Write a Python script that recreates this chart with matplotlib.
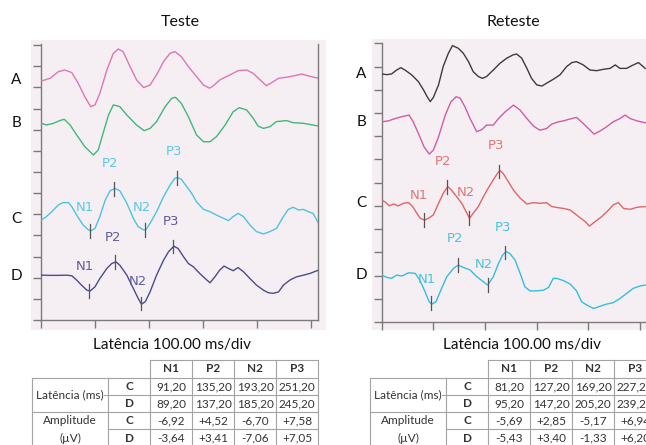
import numpy as np
import matplotlib
matplotlib.use('Agg')
import matplotlib.pyplot as plt
from matplotlib.patches import Rectangle

plt.rcParams['font.family'] = ['Lato', 'DejaVu Sans']

# ---- data: latency (ms) and amplitude (divisions) ----
waves = ['N1', 'P2', 'N2', 'P3']

# Teste
teste_t_A = [1, 17, 32, 44, 57, 69, 81, 92, 100, 109, 122, 134, 143, 152, 165, 177, 190, 202, 214, 227,
             239, 248, 260, 273, 288, 301, 312, 319, 331, 350, 365, 381, 393, 406, 417, 427, 440, 455, 467, 483,
             495, 514]
teste_A = [-0.05, 0.08, 0.39, 0.47, 0.35, -0.16, -0.79, -1.26, -1.18, -0.63, 0.47, 1.26, 1.46, 1.34, 0.63, 0,
           -0.36, -0.24, 0.24, 0.87, 1.26, 1.34, 1.10, 0.63, 0.16, -0.24, -0.39, -0.28, 0, 0.24, 0.44, 0.47,
           0.31, 0, -0.27, -0.13, 0.08, 0.13, 0.19, 0.28, 0.19, 0.08]
teste_t_B = [1, 10, 23, 35, 43, 54, 66, 81, 97, 106, 115, 125, 134, 146, 159, 177, 191, 202, 214, 230,
             242, 249, 260, 273, 288, 301, 313, 325, 341, 356, 367, 381, 393, 402, 412, 424, 436, 455, 467, 486,
             514]
teste_B = [0, -0.08, 0, 0.13, 0.19, -0.08, -0.55, -1.10, -1.50, -1.26, -0.47, 0.39, 0.87, 0.79, 0.39, -0.08,
           -0.35, -0.24, 0.08, 0.79, 1.18, 1.23, 0.94, 0.31, -0.55, -0.87, -0.87, -0.63, -0.08, 0.55, 0.74, 0.63,
           0.24, -0.13, -0.24, -0.16, 0.08, 0.13, 0.03, 0, -0.13]
teste_t_C = [1, 10, 20, 32, 41, 51, 57, 66, 78, 88, 92, 100, 109, 119, 128, 137, 146, 159, 171, 180,
             190, 194, 202, 214, 227, 239, 248, 253, 260, 270, 279, 288, 301, 313, 325, 338, 347, 356, 365, 375,
             387, 399, 412, 424, 436, 449, 458, 467, 477, 486, 495, 504, 514]
teste_C = [-0.03, 0.13, 0.36, 0.68, 0.79, 0.79, 0.60, 0.20, -0.27, -0.50, -0.55, -0.43, 0.13, 0.91, 1.35, 1.46,
           1.35, 0.76, 0.05, -0.35, -0.50, -0.50, -0.19, 0.36, 1.07, 1.62, 1.94, 1.98, 1.89, 1.54, 1.23, 0.83,
           0.47, 0.36, 0.20, 0.05, -0.06, 0.13, 0.28, 0.13, -0.27, -0.58, -0.69, -0.58, -0.43, 0.13, 0.47, 0.57,
           0.44, 0.47, 0.36, 0.28, -0.19]
teste_t_D = [1, 17, 32, 48, 57, 66, 75, 85, 91, 100, 109, 122, 131, 139, 146, 159, 171, 180, 186, 193,
             202, 214, 227, 236, 246, 254, 264, 273, 282, 294, 304, 313, 322, 331, 339, 347, 356, 365, 375, 387,
             399, 412, 421, 430, 440, 449, 461, 473, 486, 498, 514]
teste_D = [0.03, 0.02, 0.02, 0.03, 0, -0.20, -0.44, -0.68, -0.72, -0.52, -0.13, 0.35, 0.58, 0.66, 0.50, 0.03,
           -0.60, -1.07, -1.34, -1.23, -0.76, 0.03, 0.74, 1.13, 1.40, 1.29, 0.90, 0.58, 0.43, 0.11, -0.13, -0.33,
           -0.05, 0.27, 0.46, 0.35, 0.24, 0.39, 0.19, -0.13, -0.44, -0.68, -0.80, -0.83, -0.76, -0.44, -0.20,
           -0.05, 0.03, 0.11, 0.27]

# Reteste
reteste_t_A = [0, 10, 19, 29, 37, 45, 58, 71, 81, 88, 94, 100, 110, 119, 129, 137, 148, 158, 168, 177,
               187, 195, 203, 216, 229, 242, 254, 261, 271, 281, 290, 300, 310, 319, 332, 345, 358, 368, 377, 390,
               403, 416, 429, 442, 452, 461, 474, 487, 497, 510]
reteste_A = [0, -0.03, 0, 0.17, 0.27, 0.17, -0.04, -0.33, -0.69, -0.98, -1.19, -1.01, -0.47, 0.32, 0.89, 1.22,
             1.11, 0.89, 0.53, 0.10, -0.11, -0.19, -0.11, 0.17, 0.46, 0.68, 0.82, 0.86, 0.68, 0.24, -0.19, -0.47,
             -0.52, -0.40, -0.23, -0.04, 0.32, 0.49, 0.53, 0.39, 0.17, 0.14, 0.20, 0.24, 0.39, 0.24, 0.24, 0.39,
             0.49, 0.24]
reteste_t_B = [0, 13, 26, 39, 53, 61, 71, 82, 92, 100, 110, 123, 134, 144, 152, 161, 171, 184, 194, 203,
               216, 226, 239, 255, 268, 281, 294, 306, 319, 329, 342, 352, 361, 377, 390, 400, 411, 423, 435, 448,
               461, 471, 481, 494, 510]
reteste_B = [0, 0.04, 0.14, 0.22, 0.29, 0, -0.50, -1.08, -1.39, -1.22, -0.65, 0.29, 0.86, 1.08, 1.01, 0.65,
             0.14, -0.43, -0.33, -0.14, -0.14, 0.14, 0.43, 0.72, 0.50, 0.14, -0.19, -0.36, -0.29, -0.10, 0, 0.04,
             0.10, 0.19, -0.07, -0.29, -0.53, -0.39, -0.22, 0, 0.14, 0.29, 0.14, 0.04, -0.04]
reteste_t_C = [0, 6, 15, 23, 32, 42, 52, 60, 68, 75, 83, 90, 100, 110, 119, 128, 135, 145, 155, 165,
               170, 177, 187, 197, 206, 216, 225, 229, 235, 245, 255, 268, 281, 294, 306, 319, 329, 342, 352, 365,
               381, 394, 402, 413, 426, 439, 448, 458, 468, 481, 494, 510]
reteste_C = [0.14, 0.07, -0.11, -0.03, -0.11, 0, 0.03, -0.14, -0.43, -0.65, -0.72, -0.65, -0.50, 0, 0.43, 0.72,
             0.57, 0.29, 0, -0.43, -0.65, -0.43, -0.14, 0.29, 0.65, 1.01, 1.32, 1.41, 1.29, 0.93, 0.57, 0.22,
             -0.03, 0.03, 0, 0.03, -0.14, -0.19, -0.22, -0.29, -0.57, -0.79, -0.98, -0.79, -0.57, -0.29, -0.07,
             0.03, -0.22, -0.26, -0.17, -0.14]
reteste_t_D = [0, 10, 19, 29, 39, 52, 65, 74, 84, 92, 97, 105, 116, 126, 139, 148, 158, 171, 184, 197,
               205, 216, 226, 234, 241, 248, 258, 268, 277, 287, 300, 313, 323, 332, 339, 352, 365, 377, 387, 397,
               410, 423, 435, 448, 461, 474, 487, 500, 510]
reteste_D = [0, -0.10, -0.14, 0, -0.04, 0.10, 0.07, -0.22, -0.72, -1.15, -1.25, -1.15, -0.57, -0.07, 0.29, 0.43,
             0.33, 0.22, -0.07, -0.29, -0.43, -0.07, 0.50, 0.86, 1.01, 0.93, 0.65, 0.07, -0.50, -0.68, -0.68,
             -0.65, -0.53, -0.14, -0.14, -0.24, -0.39, -0.68, -1.15, -1.29, -1.44, -1.34, -1.25, -1.19, -1.01,
             -0.79, -0.57, -0.47, -0.43]

# table values
teste_lat_C = [91.20, 135.20, 193.20, 251.20]
teste_lat_D = [89.20, 137.20, 185.20, 245.20]
teste_amp_C = [-6.92, 4.52, -6.70, 7.58]
teste_amp_D = [-3.64, 3.41, -7.06, 7.05]
reteste_lat_C = [81.20, 127.20, 169.20, 227.20]
reteste_lat_D = [95.20, 147.20, 205.20, 239.20]
reteste_amp_C = [-5.69, 2.85, -5.17, 6.94]
reteste_amp_D = [-5.43, 3.40, -1.33, 6.20]

W, H = 646, 445
fig = plt.figure(figsize=(W / 100, H / 100), dpi=100)

# underlay axes in pixel units for paper backgrounds, titles and tables
bg = fig.add_axes([0, 0, 1, 1], zorder=0)
bg.set_xlim(0, W)
bg.set_ylim(H, 0)
bg.axis('off')
paper = '#f5eff3'
bg.add_patch(Rectangle((31, 40), 295, 290, color=paper, lw=0))
bg.add_patch(Rectangle((372, 39), 280, 291, color=paper, lw=0))

axis_col = '#7a7a7a'


def make_panel(rect, xmax, ymax, right_spine):
    ax = fig.add_axes(rect, zorder=1)
    ax.set_facecolor('none')
    ax.set_xlim(0, xmax)
    ax.set_ylim(0, ymax)
    ax.set_xticks(np.arange(0, 501, 100))
    ax.set_yticks(np.arange(0, int(ymax) + 1))
    ax.set_xticklabels([])
    ax.set_yticklabels([])
    ax.tick_params(direction='out', length=5.5, width=1.0, color=axis_col)
    ax.spines['top'].set_visible(False)
    ax.spines['right'].set_visible(right_spine)
    for s in ['left', 'bottom', 'right']:
        ax.spines[s].set_color(axis_col)
        ax.spines[s].set_linewidth(1.0)
    return ax


def peak_marks(ax, t, y, lats, half):
    for lat in lats:
        yy = np.interp(lat, t, y)
        ax.plot([lat, lat], [yy - half, yy + half], color='#555555', lw=0.9, zorder=4)


def draw_traces(ax, traces, label_x):
    for name, t, amp, base, col in traces:
        y = np.array(amp) + base
        ax.plot(t, y, color=col, lw=1.0, zorder=3)
        ax.text(label_x, base, name, ha='center', va='center', fontsize=11, color='#111111', clip_on=False)


# ---- Teste panel ----
axL = make_panel([41 / W, 1 - 320 / H, (318 - 41) / W, (320 - 44) / H], 513, 13.05, True)
tL = [('A', teste_t_A, teste_A, 11.35, '#e075b5'),
      ('B', teste_t_B, teste_B, 9.30, '#3fb87a'),
      ('C', teste_t_C, teste_C, 4.76, '#4cc3e3'),
      ('D', teste_t_D, teste_D, 2.09, '#4d4b8e')]
draw_traces(axL, tL, -46)
peak_marks(axL, teste_t_C, np.array(teste_C) + 4.76, teste_lat_C, 0.32)
peak_marks(axL, teste_t_D, np.array(teste_D) + 2.09, teste_lat_D, 0.32)
lab_kw = dict(ha='center', va='center', fontsize=9.5, family='DejaVu Sans', zorder=5)
for txt, x, y in [('N1', 81, 5.34), ('P2', 128, 7.42), ('N2', 187, 5.34), ('P3', 246, 7.99)]:
    axL.text(x, y, txt, color='#5cc8e6', **lab_kw)
for txt, x, y in [('N1', 81, 2.55), ('P2', 133, 3.92), ('N2', 180, 1.84), ('P3', 241, 4.68)]:
    axL.text(x, y, txt, color='#5f5ea0', **lab_kw)

# ---- Reteste panel ----
axR = make_panel([381.7 / W, 1 - 322 / H, (W - 381.7) / W, (322 - 43.3) / H], 511.5, 12.0, False)
tR = [('A', reteste_t_A, reteste_A, 10.68, '#3c3c3c'),
      ('B', reteste_t_B, reteste_B, 8.62, '#d35ca4'),
      ('C', reteste_t_C, reteste_C, 5.11, '#e0656a'),
      ('D', reteste_t_D, reteste_D, 2.02, '#35bde0')]
draw_traces(axR, tR, -40)
peak_marks(axR, reteste_t_C, np.array(reteste_C) + 5.11, reteste_lat_C, 0.3)
peak_marks(axR, reteste_t_D, np.array(reteste_D) + 2.02, reteste_lat_D, 0.3)
for txt, x, y in [('N1', 72, 5.43), ('P2', 119, 6.90), ('N2', 163, 5.56), ('P3', 221, 7.59)]:
    axR.text(x, y, txt, color='#e0767a', **lab_kw)
for txt, x, y in [('N1', 88, 1.81), ('P2', 142, 3.58), ('N2', 198, 2.46), ('P3', 235, 4.05)]:
    axR.text(x, y, txt, color='#45c4e4', **lab_kw)

# ---- titles ----
bg.text(180, 22, 'Teste', ha='center', va='center', fontsize=11.5, color='#111111')
bg.text(513, 22, 'Reteste', ha='center', va='center', fontsize=11.5, color='#111111')
bg.text(172, 345, 'Latência 100.00 ms/div', ha='center', va='center', fontsize=11, color='#111111')
bg.text(522, 345, 'Latência 100.00 ms/div', ha='center', va='center', fontsize=11, color='#111111')


# ---- tables ----
def fmt(v, sign=False):
    s = f'{v:+.2f}' if sign else f'{v:.2f}'
    return s.replace('.', ',')


def draw_table(x0, lat_c, lat_d, amp_c, amp_d):
    line = dict(color='#a3a3a3', lw=0.8)
    cw = 42
    cols = [x0 + cw * i for i in range(5)]
    cd_l = x0 - cw
    lab_l = x0 - 118
    rows = [360, 378, 395, 412, 429, 447]
    bg.plot([cols[0], cols[-1]], [rows[0], rows[0]], **line)
    bg.plot([lab_l, cols[-1]], [rows[1], rows[1]], **line)
    bg.plot([cd_l - 4, cols[-1]], [rows[2], rows[2]], **line)
    bg.plot([lab_l, cols[-1]], [rows[3], rows[3]], **line)
    bg.plot([cd_l, cols[-1]], [rows[4], rows[4]], **line)
    for c in cols:
        bg.plot([c, c], [rows[0], rows[-1]], **line)
    for c in [lab_l, cd_l]:
        bg.plot([c, c], [rows[1], rows[-1]], **line)
    txt = dict(ha='center', va='center', fontsize=8.5, color='#333333')
    for i, w in enumerate(waves):
        xc = cols[i] + cw / 2
        bg.text(xc, (rows[0] + rows[1]) / 2, w, fontweight='bold', **txt)
        bg.text(xc, (rows[1] + rows[2]) / 2, fmt(lat_c[i]), **txt)
        bg.text(xc, (rows[2] + rows[3]) / 2, fmt(lat_d[i]), **txt)
        bg.text(xc, (rows[3] + rows[4]) / 2, fmt(amp_c[i], True), **txt)
        bg.text(xc, (rows[4] + rows[5]) / 2, fmt(amp_d[i], True), **txt)
    for r, lab in enumerate(['C', 'D', 'C', 'D']):
        bg.text(cd_l + cw / 2, (rows[r + 1] + rows[r + 2]) / 2, lab, fontweight='bold', **txt)
    lx = (lab_l + cd_l) / 2
    bg.text(lx, rows[2], 'Latência (ms)', **txt)
    bg.text(lx, (rows[3] + rows[4]) / 2, 'Amplitude', **txt)
    bg.text(lx, (rows[4] + rows[5]) / 2, '(µV)', **txt)


draw_table(150, teste_lat_C, teste_lat_D, teste_amp_C, teste_amp_D)
draw_table(488, reteste_lat_C, reteste_lat_D, reteste_amp_C, reteste_amp_D)

fig.savefig('out.png', dpi=100)
